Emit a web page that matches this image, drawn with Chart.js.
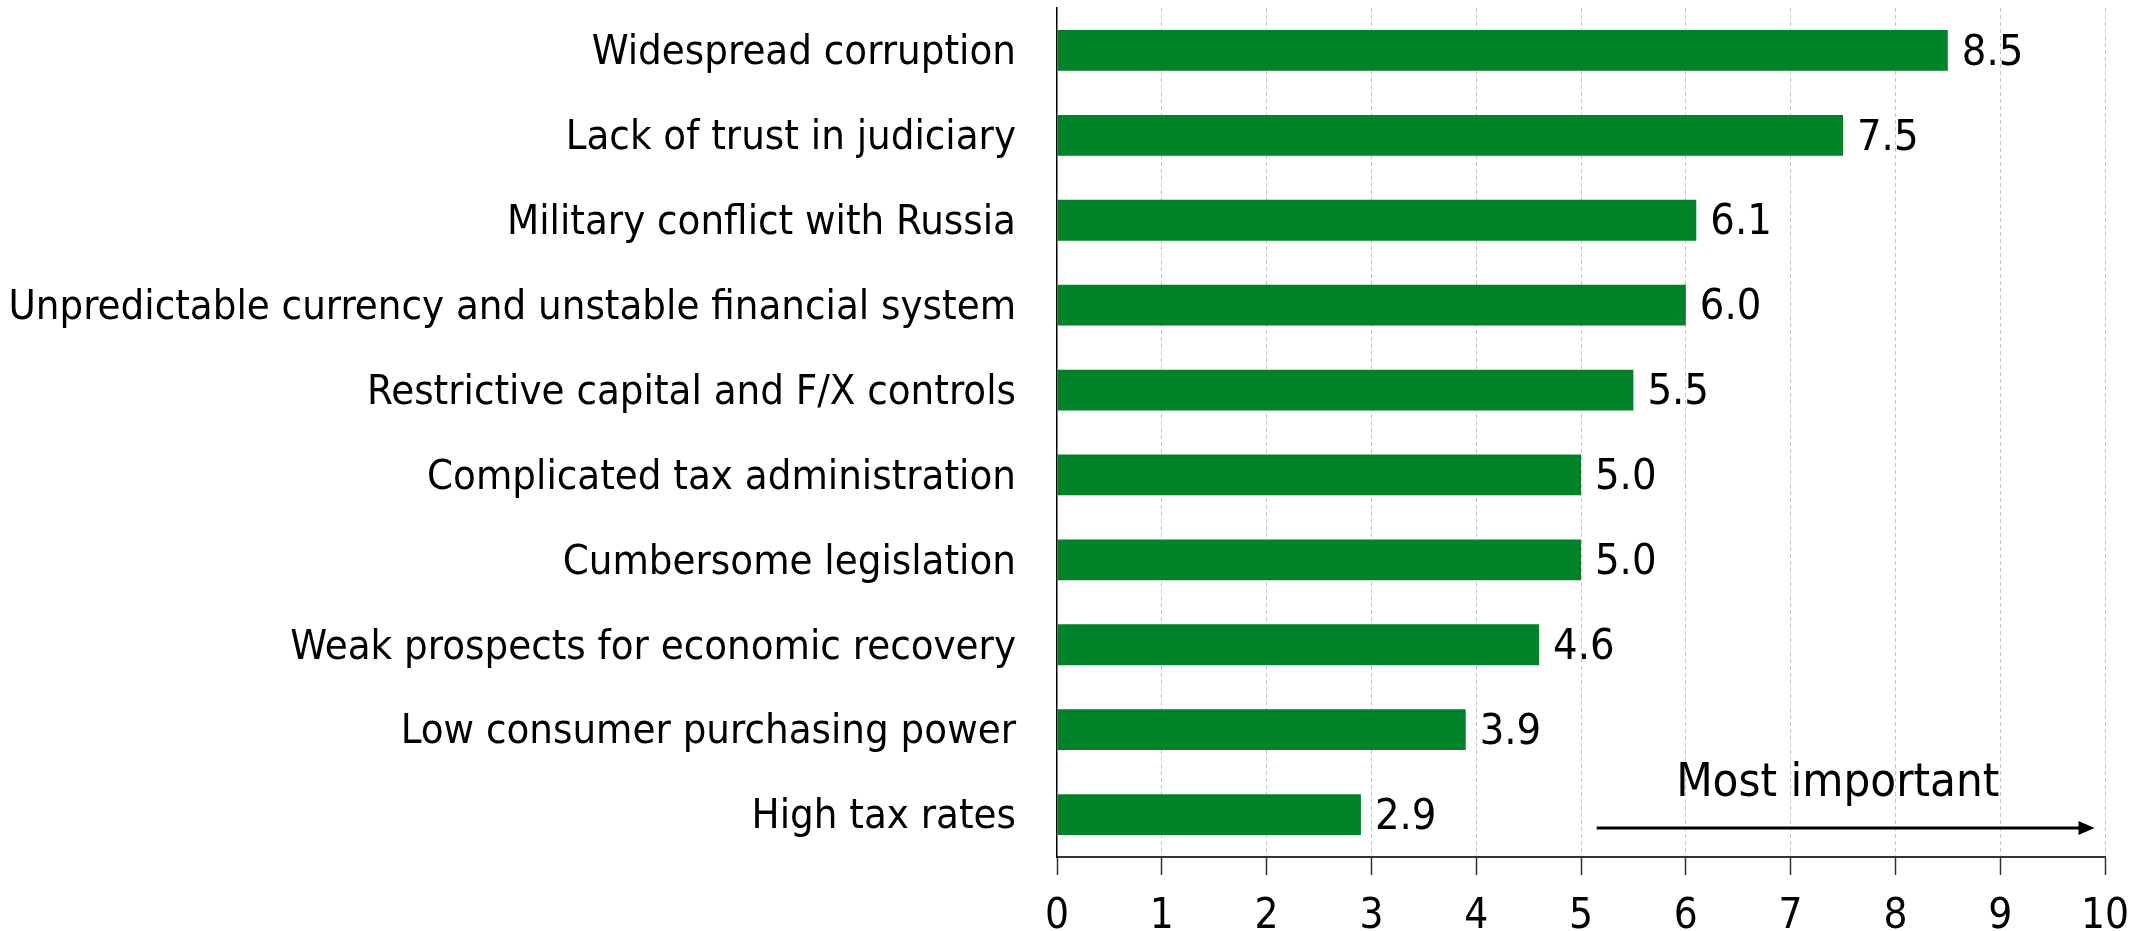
<!DOCTYPE html>
<html>
<head>
<meta charset="utf-8">
<script src="https://cdn.jsdelivr.net/npm/chart.js@4/dist/chart.umd.min.js"></script>
<style>
  html, body { margin: 0; padding: 0; background: #fff; }
  #wrap { width: 2144px; height: 931px; }
</style>
</head>
<body>
<div id="wrap"><canvas id="chart" width="2144" height="931"></canvas></div>
<script>
const categories = [
  "Widespread corruption",
  "Lack of trust in judiciary",
  "Military conflict with Russia",
  "Unpredictable currency and unstable financial system",
  "Restrictive capital and F/X controls",
  "Complicated tax administration",
  "Cumbersome legislation",
  "Weak prospects for economic recovery",
  "Low consumer purchasing power",
  "High tax rates"
];
const scores = [8.5, 7.5, 6.1, 6.0, 5.5, 5.0, 5.0, 4.6, 3.9, 2.9];
const xTicks = [0, 1, 2, 3, 4, 5, 6, 7, 8, 9, 10];

const FONT = "'DejaVu Sans Condensed', 'DejaVu Sans', sans-serif";
const GREEN = "#008228";

const valueLabels = {
  id: "valueLabels",
  afterDatasetsDraw(chart) {
    const ctx = chart.ctx;
    const meta = chart.getDatasetMeta(0);
    ctx.save();
    ctx.font = "43px " + FONT;
    ctx.fillStyle = "#000";
    ctx.textAlign = "left";
    ctx.textBaseline = "middle";
    meta.data.forEach((bar, i) => {
      ctx.fillText(scores[i].toFixed(1), bar.x + 14, bar.y + 3);
    });
    ctx.restore();
  }
};

const importanceArrow = {
  id: "importanceArrow",
  afterDraw(chart) {
    const ctx = chart.ctx;
    const x = chart.scales.x;
    const area = chart.chartArea;
    const x0 = x.getPixelForValue(5.15);
    const x1 = x.getPixelForValue(9.9);
    const y = area.bottom - 29;
    ctx.save();
    ctx.strokeStyle = "#000";
    ctx.fillStyle = "#000";
    ctx.lineWidth = 3;
    ctx.beginPath();
    ctx.moveTo(x0, y);
    ctx.lineTo(x1 - 14, y);
    ctx.stroke();
    ctx.beginPath();
    ctx.moveTo(x1, y);
    ctx.lineTo(x1 - 16, y - 7);
    ctx.lineTo(x1 - 16, y + 7);
    ctx.closePath();
    ctx.fill();
    ctx.font = "47px " + FONT;
    ctx.textAlign = "center";
    ctx.textBaseline = "middle";
    ctx.fillText("Most important", x.getPixelForValue(7.45), area.bottom - 73);
    ctx.restore();
  }
};

new Chart(document.getElementById("chart"), {
  type: "bar",
  data: {
    labels: categories,
    datasets: [{
      data: scores,
      backgroundColor: GREEN,
      barPercentage: 0.48,
      categoryPercentage: 1
    }]
  },
  options: {
    indexAxis: "y",
    responsive: false,
    animation: false,
    layout: { padding: { top: 8, right: 39, bottom: 0, left: 0 } },
    plugins: { legend: { display: false }, tooltip: { enabled: false } },
    scales: {
      x: {
        min: 0,
        max: 10,
        afterBuildTicks(scale) {
          scale.ticks = xTicks.map(v => ({ value: v }));
        },
        afterFit(scale) {
          scale.height = 74;
          scale.paddingTop = 0;
          scale.paddingBottom = 0;
          scale.paddingRight = 0;
        },
        grid: {
          color: ctx => ctx.index === 0 ? "rgba(0,0,0,0)" : "#c4c4c4",
          tickColor: "#333",
          tickLength: 18,
          tickWidth: 1.5
        },
        border: { display: true, color: "#333", width: 2, dash: [4, 3] },
        ticks: {
          color: "#000",
          padding: 17,
          font: { family: FONT, size: 42 }
        }
      },
      y: {
        afterFit(scale) {
          scale.width = 1057;
          scale.paddingTop = 0;
          scale.paddingBottom = 0;
        },
        grid: { display: false, drawTicks: false },
        border: { display: true, color: "#000", width: 1.5 },
        ticks: {
          color: "#000",
          padding: 41,
          labelOffset: 3,
          font: { family: FONT, size: 41.5 }
        }
      }
    }
  },
  plugins: [valueLabels, importanceArrow]
});
</script>
</body>
</html>
